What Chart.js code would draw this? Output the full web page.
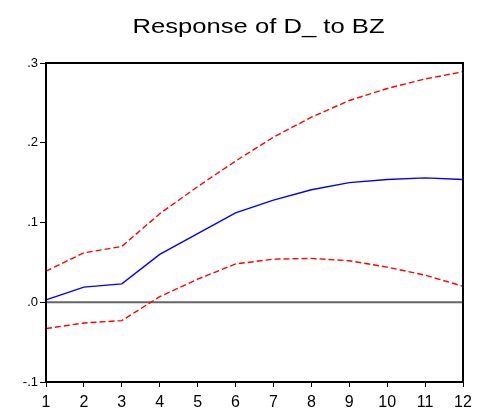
<!DOCTYPE html>
<html>
<head>
<meta charset="utf-8">
<script src="https://cdn.jsdelivr.net/npm/chart.js@4/dist/chart.umd.min.js"></script>
<style>
  html, body { margin: 0; padding: 0; background: #fff; }
  canvas { display: block; }
</style>
</head>
<body>
<canvas id="irf" width="481" height="411"></canvas>
<script>
// Impulse response of D_ to a shock in BZ, with ±2 S.E. bands
const periods = ['1','2','3','4','5','6','7','8','9','10','11','12'];
const response = [0.003, 0.019, 0.023, 0.060, 0.086, 0.112, 0.128, 0.141, 0.150, 0.154, 0.156, 0.154];
const upperBand = [0.039, 0.062, 0.070, 0.111, 0.145, 0.177, 0.207, 0.232, 0.253, 0.268, 0.280, 0.289];
const lowerBand = [-0.033, -0.026, -0.023, 0.007, 0.029, 0.048, 0.054, 0.055, 0.052, 0.044, 0.034, 0.020];
const yTicks = [-0.1, 0.0, 0.1, 0.2, 0.3];
const titleText = 'Response of D_ to BZ';

const FONT = '"Liberation Sans", Arial, sans-serif';

function fmtTick(v) {
  if (Math.abs(v) < 1e-9) return '.0';
  return (v < 0 ? '-' : '') + Math.abs(v).toFixed(1).replace(/^0/, '');
}

// zero reference line drawn beneath the series
const zeroLine = {
  id: 'zeroLine',
  beforeDatasetsDraw(chart) {
    const { ctx, chartArea: a, scales: { y } } = chart;
    const py = y.getPixelForValue(0);
    ctx.save();
    ctx.strokeStyle = '#666666';
    ctx.lineWidth = 2;
    ctx.beginPath();
    ctx.moveTo(a.left, py);
    ctx.lineTo(a.right, py);
    ctx.stroke();
    ctx.restore();
  }
};

// closed frame around the plot and the heading above it
const frameAndTitle = {
  id: 'frameAndTitle',
  afterDraw(chart) {
    const { ctx, chartArea: a } = chart;
    ctx.save();
    ctx.strokeStyle = '#000';
    ctx.lineWidth = 2;
    ctx.strokeRect(a.left, a.top, a.right - a.left, a.bottom - a.top);
    ctx.fillStyle = '#000';
    ctx.font = '21px ' + FONT;
    ctx.textAlign = 'center';
    ctx.textBaseline = 'alphabetic';
    ctx.translate(258.5, 33);
    ctx.scale(1.22, 1);
    ctx.fillText(titleText, 0, 0);
    ctx.restore();
  }
};

new Chart(document.getElementById('irf'), {
  type: 'line',
  data: {
    labels: periods,
    datasets: [
      { data: response, borderColor: '#0000ff', borderWidth: 1.4, pointRadius: 0, tension: 0, fill: false },
      { data: upperBand, borderColor: '#ff0000', borderWidth: 1.4, borderDash: [6, 3], pointRadius: 0, tension: 0, fill: false },
      { data: lowerBand, borderColor: '#ff0000', borderWidth: 1.4, borderDash: [6, 3], pointRadius: 0, tension: 0, fill: false }
    ]
  },
  options: {
    responsive: false,
    animation: false,
    events: [],
    layout: { padding: { top: 63, right: 18, bottom: 0, left: 0 } },
    plugins: { legend: { display: false }, title: { display: false }, tooltip: { enabled: false } },
    scales: {
      x: {
        offset: false,
        grid: { drawOnChartArea: false, drawTicks: true, tickLength: 5, color: '#000', lineWidth: 1 },
        border: { display: true, color: '#000', width: 2 },
        ticks: { color: '#000', font: { family: FONT, size: 16 }, padding: 6, maxRotation: 0, autoSkip: false },
        afterFit(scale) { scale.height = 29; }
      },
      y: {
        min: -0.1,
        max: 0.3,
        afterBuildTicks(scale) { scale.ticks = yTicks.map(v => ({ value: v })); },
        grid: { drawOnChartArea: false, drawTicks: true, tickLength: 6, color: '#000', lineWidth: 1 },
        border: { display: true, color: '#000', width: 2 },
        ticks: { color: '#000', font: { family: FONT, size: 13 }, padding: 2, callback: v => fmtTick(v) },
        afterFit(scale) { scale.width = 46; }
      }
    }
  },
  plugins: [zeroLine, frameAndTitle]
});
</script>
</body>
</html>
